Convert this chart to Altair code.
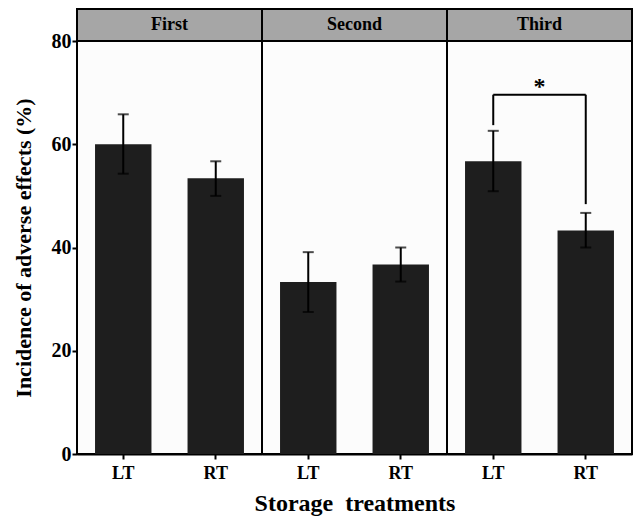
import altair as alt
import pandas as pd

groups = ["First", "Second", "Third"]
group_col = ["First", "First", "Second", "Second", "Third", "Third"]
treats = ["LT", "RT", "LT", "RT", "LT", "RT"]
means = [60.0, 53.4, 33.3, 36.7, 56.7, 43.3]
err_hi = [65.8, 56.7, 39.1, 40.0, 62.6, 46.7]
err_lo = [54.3, 50.0, 27.5, 33.4, 50.9, 40.0]
# significance bracket (Third panel only)
leg_lo = [None, None, None, None, 63.7, 48.4]
leg_hi = [None, None, None, None, 69.6, 69.6]
bracket_to = [None, None, None, None, "RT", None]
star = [None, None, None, None, "*", None]

df = pd.DataFrame({
    "group": group_col, "treat": treats, "mean": means,
    "hi": err_hi, "lo": err_lo,
    "leg_lo": leg_lo, "leg_hi": leg_hi, "treat2": bracket_to, "star": star,
})

W = 185
H = 413
FONT = "Liberation Serif"

xenc = alt.X("treat:N", title=None, sort=["LT", "RT"],
             scale=alt.Scale(paddingInner=0.39, paddingOuter=0.195),
             axis=alt.Axis(labelAngle=0, labelFontSize=18, labelFontWeight="bold",
                           labelFont=FONT, labelColor="black", labelPadding=5,
                           tickSize=5, tickWidth=2, tickColor="black",
                           domainColor="black", domainWidth=2))
yscale = alt.Scale(domain=[0, 80], nice=False)
yaxis = alt.Axis(values=[0, 20, 40, 60, 80], grid=False, labelFontSize=20,
                 labelFontWeight="bold", labelFont=FONT, labelColor="black",
                 tickSize=5, tickWidth=2, tickColor="black", domainColor="black",
                 domainWidth=2, labelPadding=1, titleFontSize=22, titleFont=FONT,
                 titleFontWeight="bold", titleColor="black", titlePadding=16)

base = alt.Chart()

bars = base.mark_bar(color="#1e1e1e").encode(
    x=xenc,
    y=alt.Y("mean:Q", scale=yscale, axis=yaxis,
            title="Incidence of adverse effects (%)"),
)
err = base.mark_rule(color="black", strokeWidth=2).encode(
    x=xenc, y="lo:Q", y2="hi:Q")
cap_hi = base.mark_tick(color="black", thickness=2, size=11).encode(x=xenc, y="hi:Q")
cap_lo = base.mark_tick(color="black", thickness=2, size=11).encode(x=xenc, y="lo:Q")

legs = base.mark_rule(color="black", strokeWidth=2).transform_filter(
    "isValid(datum.leg_lo)").encode(x=xenc, y="leg_lo:Q", y2="leg_hi:Q")
top = base.mark_rule(color="black", strokeWidth=2).transform_filter(
    "isValid(datum.treat2)").encode(x=xenc, x2="treat2:N", y="leg_hi:Q")
star_t = base.mark_text(font=FONT, fontSize=24, fontWeight="bold", color="black",
                        baseline="bottom", dy=4, dx=18).transform_filter(
    "isValid(datum.star)").encode(
    x=alt.X("treat:N", bandPosition=1), y="leg_hi:Q", text="star:N")

strip = base.mark_rect(fill="#a6a6a6", stroke="black", strokeWidth=2).transform_filter(
    "datum.treat == 'LT'").encode(
    x=alt.value(0), x2=alt.value(W), y=alt.value(-32), y2=alt.value(0))
strip_t = base.mark_text(font=FONT, fontSize=18, fontWeight="bold", color="black",
                         baseline="middle").transform_filter(
    "datum.treat == 'LT'").encode(
    x=alt.value(W / 2), y=alt.value(-16), text="group:N")

layer = alt.layer(bars, err, cap_hi, cap_lo, legs, top, star_t, strip, strip_t).properties(
    width=W, height=H)

chart = alt.layer(layer, data=df).facet(
    column=alt.Column("group:N", sort=groups,
                      header=alt.Header(labels=False, title="Storage\u00a0\u00a0treatments",
                                        titleOrient="bottom", titleFont=FONT,
                                        titleFontSize=24, titleFontWeight="bold",
                                        titleColor="black", titlePadding=28)),
    spacing=0,
).resolve_scale(x="independent").configure_view(
    stroke="black", strokeWidth=2, fill="#fcfcfc"
).configure_facet(spacing=0).properties(
    bounds="flush",
    padding={"left": 4, "top": -1, "right": 0, "bottom": 0})

chart.save("out.html", embed_options={"renderer": "svg", "actions": False})
